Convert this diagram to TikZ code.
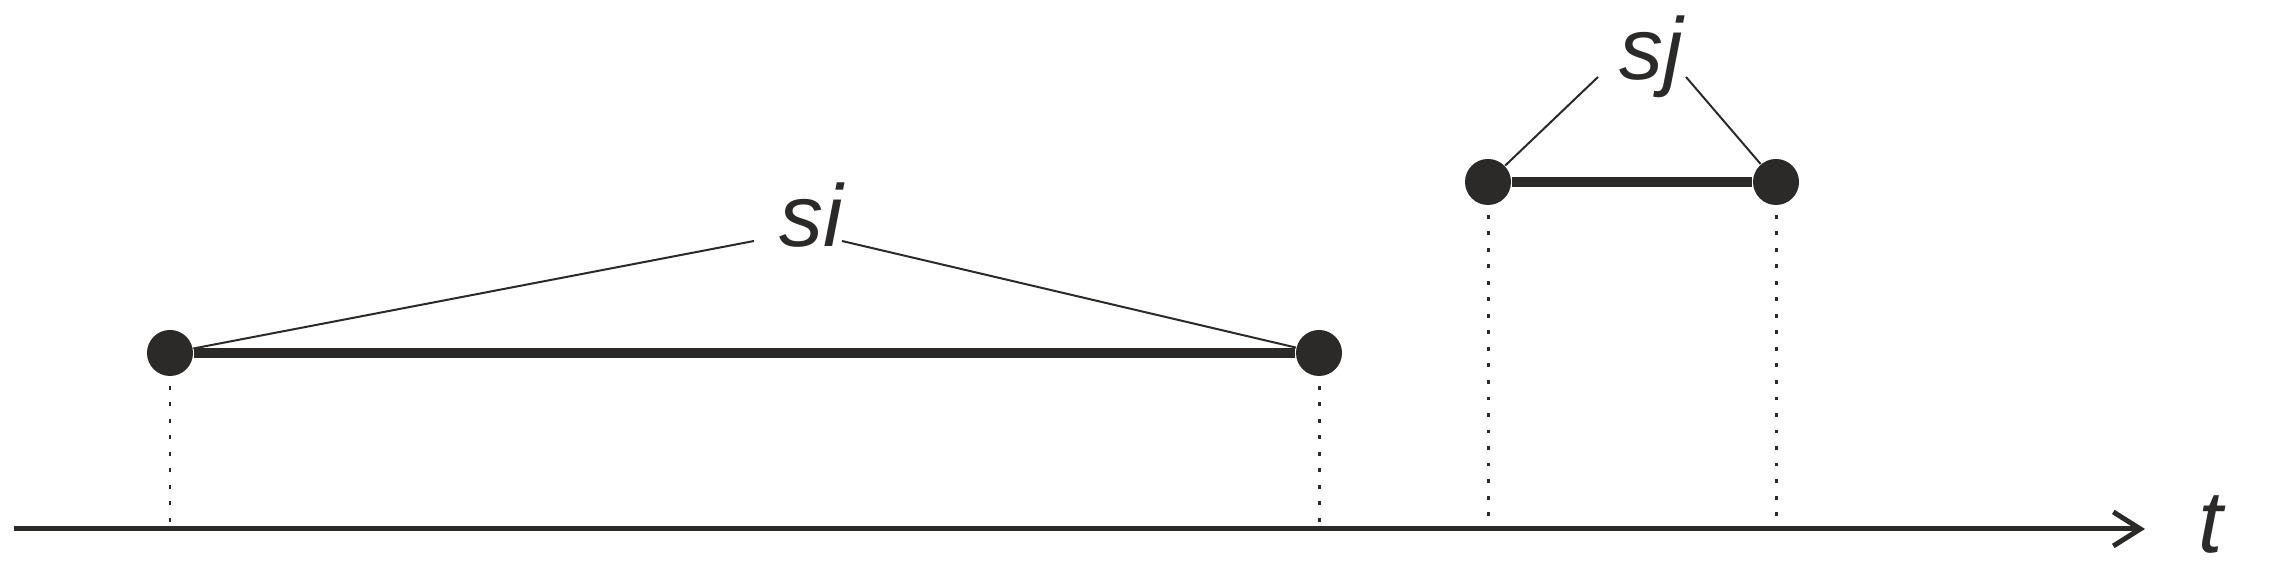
\documentclass[tikz,border=0pt]{standalone}
\usepackage{fontspec}
\setmainfont{Liberation Sans}
\usetikzlibrary{arrows.meta,positioning}
\definecolor{Ink}{HTML}{2B2A28}

\begin{document}
\begin{tikzpicture}[x=0.01cm,y=0.01cm,>={Straight Barb[length=0.27cm,width=0.34cm]},
  endpt/.style={circle,fill=Ink,inner sep=0pt,minimum size=0.46cm},
  lbl/.style={font=\fontsize{25}{30}\selectfont\itshape,text=Ink,inner sep=0pt,anchor=base},
  span/.style={draw=Ink,line width=3.1pt},
  tie/.style={draw=Ink,line width=0.57pt},
  drop/.style={draw=Ink,line width=0.85pt,dash pattern=on 1.1pt off 3.6pt,shorten <=0.09cm,shorten >=0.06cm}]
  \useasboundingbox (0,0) rectangle (2278,574);
  % time axis
  \coordinate (t0) at (14,45);
  \coordinate (t1) at (2145,45);
  \draw[Ink,line width=1.42pt,->] (t0) -- (t1);
  \node[lbl] (t) at (2211,21) {t};
  % interval si
  \node[endpt] (si0) at (170,221) {};
  \node[endpt] (si1) at (1319,221) {};
  \draw[span] (si0) -- (si1);
  \node[lbl] (si) at (811,327) {si};
  \coordinate (si-l) at (754,333);
  \coordinate (si-r) at (842,333);
  \draw[tie] (si-l) -- (si0);
  \draw[tie] (si-r) -- (si1);
  % interval sj
  \node[endpt] (sj0) at (1488,392) {};
  \node[endpt] (sj1) at (1776,392) {};
  \draw[span] (sj0) -- (sj1);
  \node[lbl] (sj) at (1651,494) {sj};
  \coordinate (sj-l) at (1598,497);
  \coordinate (sj-r) at (1686,497);
  \draw[tie] (sj-l) -- (sj0);
  \draw[tie] (sj-r) -- (sj1);
  % drop lines to the axis
  \foreach \p in {si0,si1,sj0,sj1}
    \draw[drop] (\p) -- (\p |- t0);
\end{tikzpicture}
\end{document}
